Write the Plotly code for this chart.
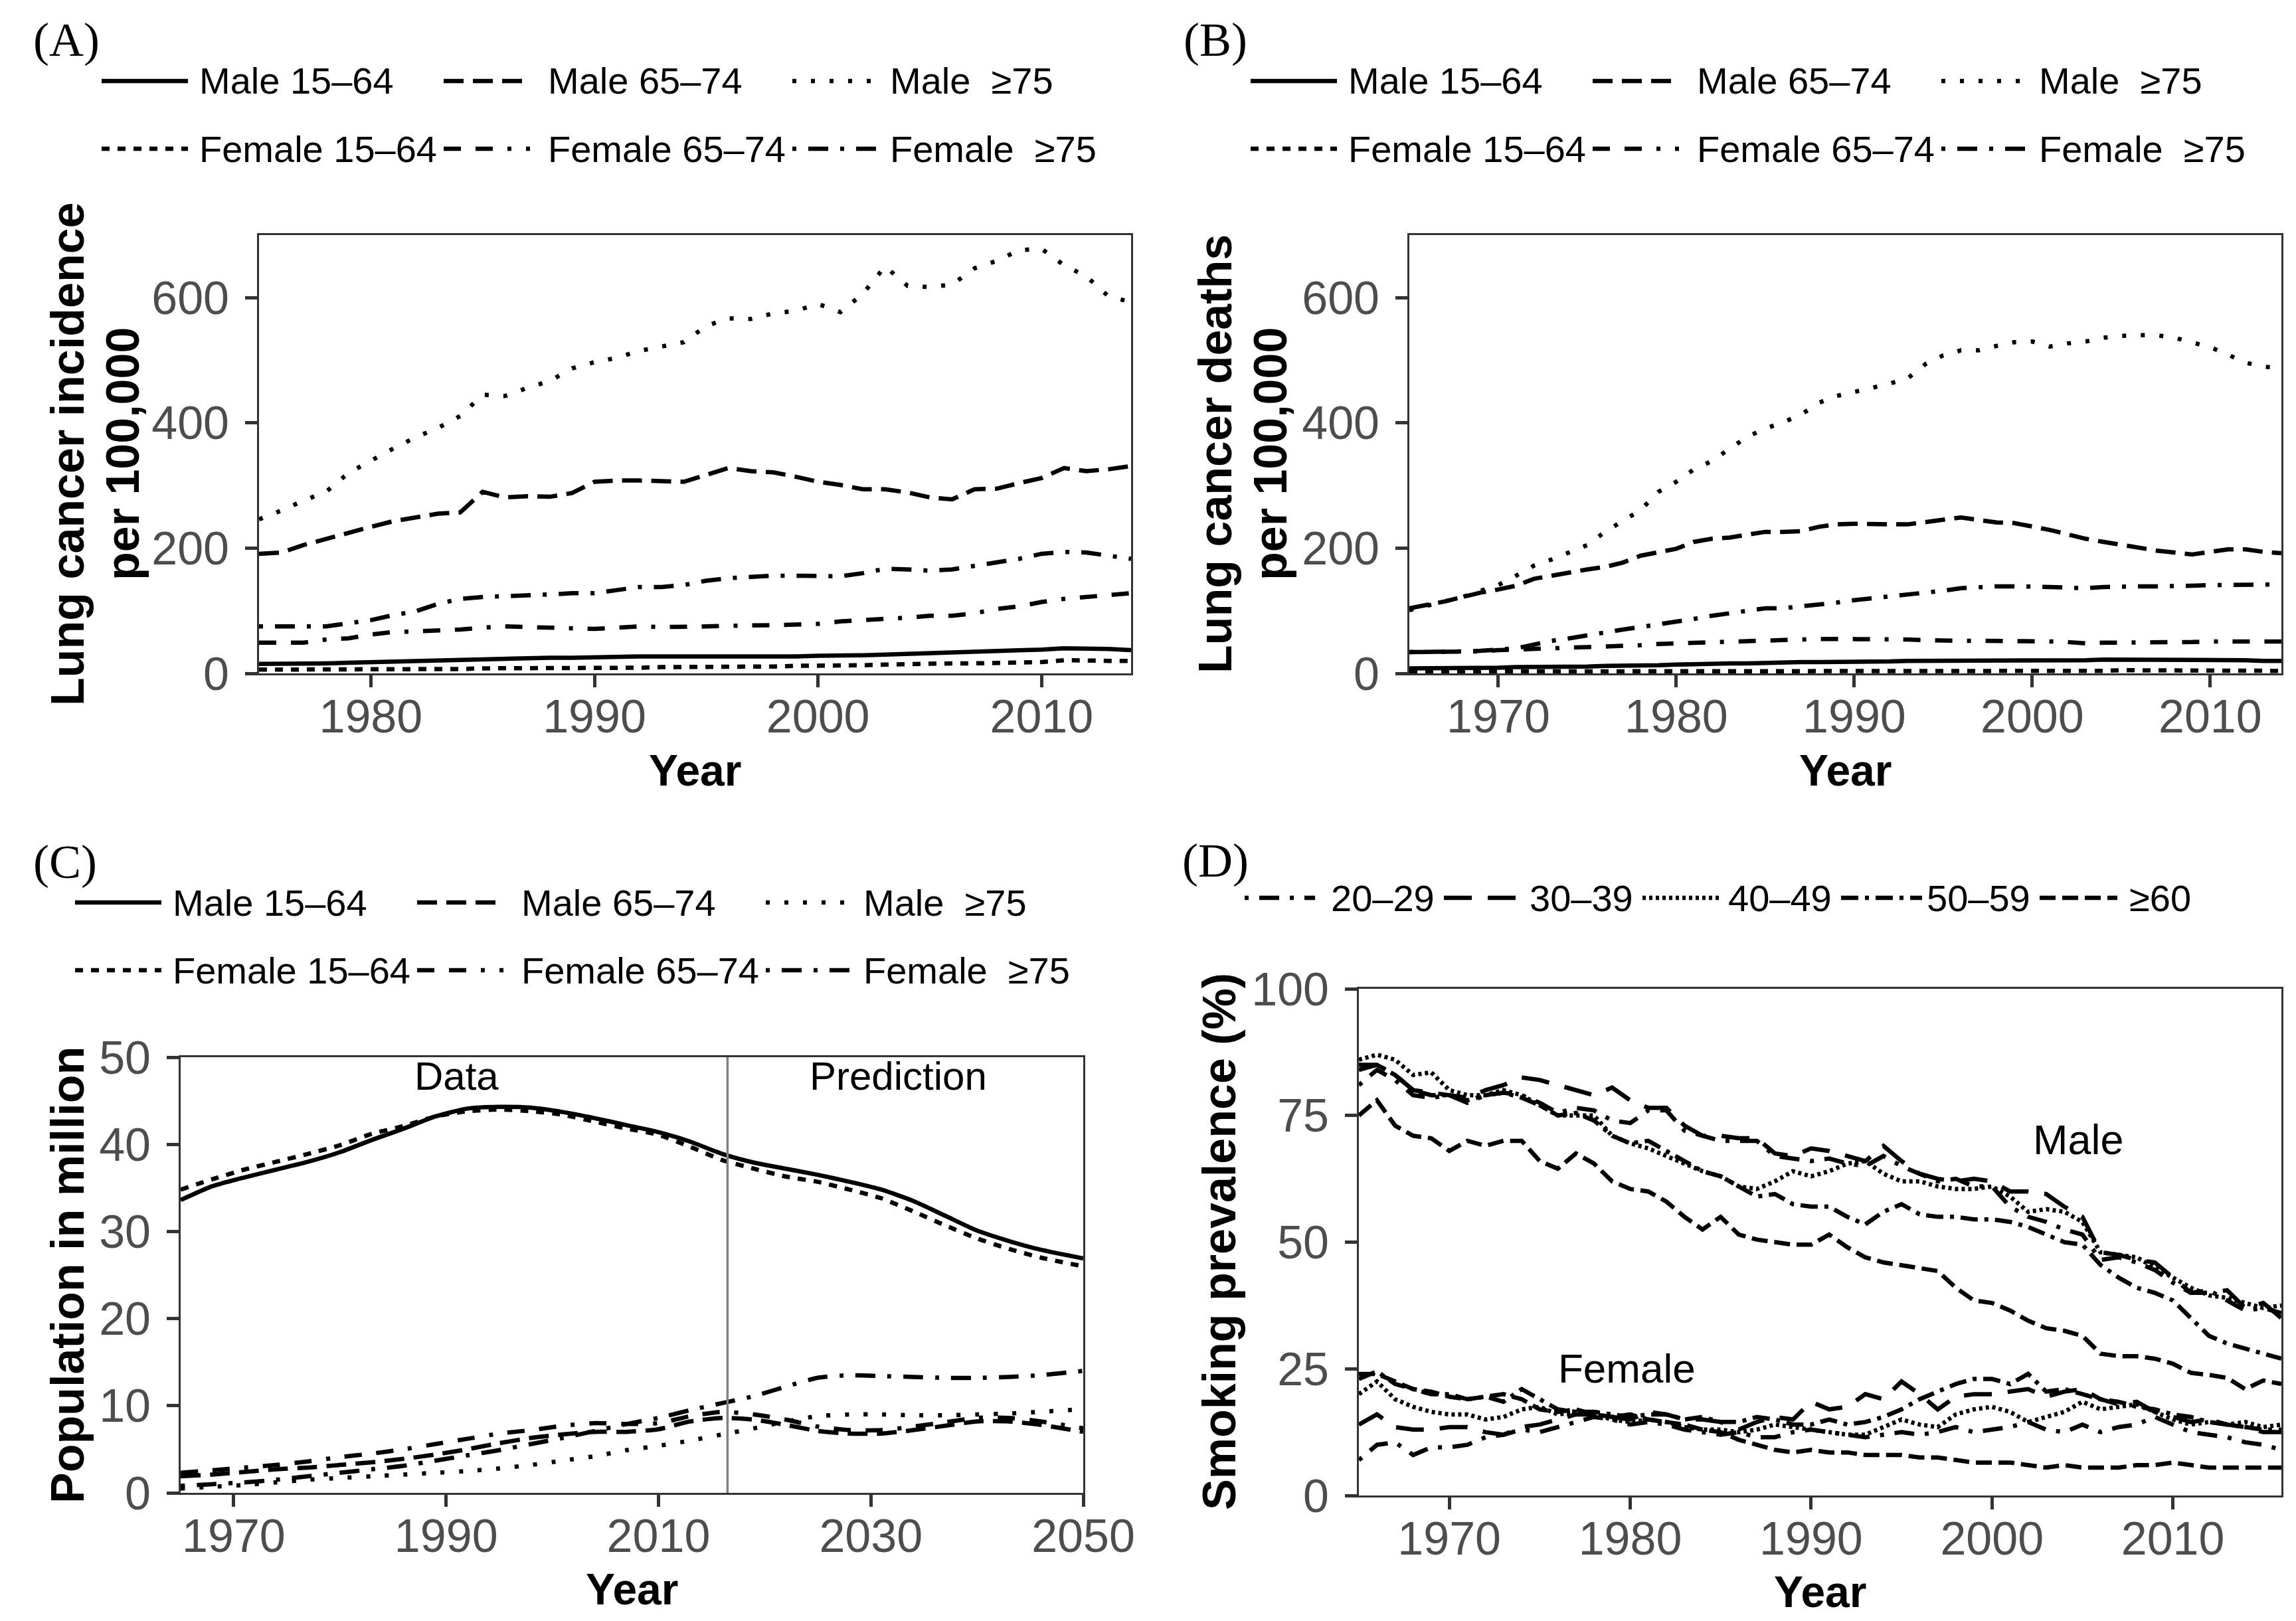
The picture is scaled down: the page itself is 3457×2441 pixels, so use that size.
# -*- coding: utf-8 -*-
"""
Lung cancer / population / smoking prevalence - 4 panel figure
"""

import plotly.graph_objects as go

# ==================== data ====================
# (A) lung cancer incidence per 100,000, 1975-2014
A_YEARS = list(range(1975, 2015))
A_MALE_15_64 = [15, 15, 16, 16, 17, 18, 19, 20, 21, 22,
                23, 24, 24, 25, 25, 26, 27, 27, 27, 27,
                26, 26, 26, 27, 27, 28, 28, 29, 30, 31,
                33, 34, 35, 36, 37, 38, 40, 40, 39, 37]
A_MALE_65_74 = [191, 193, 205, 215, 224, 234, 243, 249, 255, 257,
                290, 281, 283, 282, 288, 306, 308, 308, 307, 306,
                317, 328, 323, 321, 314, 306, 301, 294, 294, 289,
                281, 278, 294, 295, 304, 312, 328, 323, 326, 331]
A_MALE_75 = [246, 260, 276, 290, 320, 340, 359, 377, 392, 411,
             445, 443, 456, 467, 487, 497, 504, 515, 522, 529,
             555, 567, 566, 575, 579, 590, 577, 606, 650, 619,
             617, 621, 647, 659, 676, 678, 652, 634, 602, 593]
A_FEM_15_64 = [6, 6, 6, 6, 7, 7, 7, 7, 7, 7,
               8, 8, 8, 8, 9, 9, 9, 9, 10, 10,
               10, 10, 11, 11, 12, 12, 13, 13, 14, 15,
               15, 16, 16, 17, 17, 18, 21, 20, 20, 20]
A_FEM_65_74 = [49, 49, 49, 54, 56, 62, 66, 67, 68, 70,
               73, 75, 74, 73, 71, 71, 73, 75, 74, 74,
               75, 76, 76, 77, 78, 79, 83, 85, 86, 89,
               92, 92, 96, 103, 107, 114, 119, 122, 125, 128]
A_FEM_75 = [75, 75, 74, 75, 80, 85, 93, 99, 111, 119,
            122, 123, 124, 126, 128, 128, 133, 138, 138, 141,
            148, 152, 154, 156, 156, 156, 155, 160, 167, 166,
            164, 166, 172, 178, 183, 191, 194, 193, 188, 183]

# (B) lung cancer deaths per 100,000, 1965-2014
B_YEARS = list(range(1965, 2015))
B_MALE_15_64 = [8, 8, 8, 9, 9, 9, 10, 10, 10, 11,
                11, 12, 12, 13, 13, 14, 15, 15, 16, 16,
                17, 17, 18, 18, 18, 19, 19, 19, 20, 20,
                20, 20, 20, 20, 20, 20, 20, 21, 21, 22,
                22, 22, 22, 22, 21, 21, 21, 21, 20, 20]
B_MALE_65_74 = [104, 109, 115, 122, 129, 134, 140, 151, 156, 162,
                166, 170, 177, 188, 194, 199, 210, 215, 217, 222,
                226, 226, 227, 234, 238, 239, 238, 238, 238, 242,
                246, 249, 245, 241, 240, 235, 229, 222, 215, 210,
                205, 200, 196, 193, 190, 194, 198, 198, 194, 192]
B_MALE_75 = [101, 108, 115, 122, 132, 141, 156, 172, 182, 193,
             205, 226, 244, 261, 290, 306, 326, 339, 359, 378,
             391, 401, 413, 432, 443, 449, 456, 463, 471, 494,
             508, 516, 516, 523, 529, 530, 522, 527, 530, 536,
             539, 540, 540, 536, 529, 521, 509, 496, 490, 487]
B_FEM_15_64 = [3, 3, 3, 3, 3, 3, 3, 3, 3, 3,
               3, 3, 3, 3, 3, 3, 4, 4, 4, 4,
               4, 4, 4, 4, 4, 4, 4, 4, 4, 4,
               4, 4, 4, 4, 4, 4, 4, 4, 4, 4,
               5, 5, 5, 5, 5, 5, 5, 5, 4, 4]
B_FEM_65_74 = [34, 34, 34, 35, 35, 37, 38, 38, 39, 40,
               42, 43, 44, 45, 47, 48, 49, 50, 51, 52,
               53, 54, 54, 55, 55, 55, 54, 54, 54, 53,
               52, 52, 52, 52, 52, 52, 51, 50, 48, 49,
               49, 49, 49, 49, 50, 51, 51, 51, 51, 51]
B_FEM_75 = [34, 34, 34, 35, 36, 38, 40, 46, 52, 56,
            61, 66, 70, 74, 78, 82, 87, 92, 96, 101,
            104, 104, 107, 109, 113, 117, 120, 122, 125, 128,
            132, 136, 138, 139, 139, 139, 138, 137, 136, 138,
            139, 139, 139, 139, 140, 141, 141, 142, 142, 142]

# (C) population in million, data + prediction
C_YEARS = [1965, 1968, 1971, 1974, 1977, 1980, 1983, 1986, 1989, 1992,
           1995, 1998, 2001, 2004, 2007, 2010, 2013, 2016, 2019, 2022,
           2025, 2028, 2031, 2034, 2037, 2040, 2043, 2046, 2050]
C_MALE_15_64 = [33.6, 35.2, 36.2, 37.1, 38.0, 39.1, 40.5, 41.8, 43.2, 44.1,
                44.3, 44.2, 43.7, 43.0, 42.2, 41.4, 40.3, 38.9, 37.9, 37.2,
                36.5, 35.7, 34.8, 33.5, 31.8, 30.1, 28.9, 27.9, 26.9]
C_MALE_65_74 = [1.9, 2.1, 2.4, 2.7, 2.9, 3.2, 3.5, 3.9, 4.4, 5.0,
                5.7, 6.3, 6.7, 7.0, 7.0, 7.3, 8.2, 8.6, 8.4, 7.8,
                7.1, 6.8, 6.8, 7.2, 7.7, 8.2, 8.2, 7.8, 7.0]
C_MALE_75 = [0.5, 0.7, 0.9, 1.2, 1.5, 1.7, 1.9, 2.1, 2.3, 2.5,
             2.8, 3.2, 3.7, 4.2, 4.9, 5.4, 6.0, 6.7, 7.4, 8.2,
             8.8, 9.0, 9.0, 8.9, 8.9, 9.0, 9.1, 9.3, 9.6]
C_FEM_15_64 = [34.8, 36.0, 37.1, 38.0, 38.9, 39.9, 41.2, 42.1, 43.2, 43.8,
               44.0, 43.8, 43.4, 42.6, 41.8, 41.1, 39.7, 38.2, 37.2, 36.3,
               35.7, 34.8, 33.8, 32.3, 30.7, 29.2, 28.0, 27.0, 26.0]
C_FEM_65_74 = [2.3, 2.6, 2.9, 3.2, 3.6, 4.1, 4.5, 5.0, 5.6, 6.2,
               6.8, 7.2, 7.7, 8.0, 7.9, 8.0, 8.8, 9.3, 9.0, 8.4,
               7.6, 7.2, 7.2, 7.6, 8.1, 8.6, 8.6, 8.2, 7.4]
C_FEM_75 = [0.8, 1.0, 1.2, 1.5, 1.9, 2.3, 2.7, 3.1, 3.7, 4.3,
            4.9, 5.6, 6.3, 7.1, 7.9, 8.6, 9.5, 10.3, 11.1, 12.2,
            13.2, 13.5, 13.4, 13.3, 13.2, 13.2, 13.3, 13.5, 14.0]
C_SPLIT_YEAR = 2016.5

# (D) smoking prevalence (%), 1965-2016
D_YEARS = list(range(1965, 2017))
D_MALE = {
    '20-29': [81, 84, 82, 79, 78.5, 79, 77.5, 79, 79.5, 79,
              77.5, 75.5, 76.5, 76, 74, 73.5, 76, 76, 72, 71,
              70, 70, 70, 67, 66.5, 66, 66.5, 65.5, 65, 67,
              65, 63.5, 62, 62.5, 61, 61, 57, 55, 54, 52.5,
              51.5, 46.5, 47, 46, 44.5, 42, 40, 40.5, 38.5, 36.5,
              37, 36],
    '30-39': [85, 85, 83, 80, 79.5, 79, 78.5, 80, 81, 82.5,
              82, 81, 80, 79, 80.5, 78, 76.5, 76.5, 73, 71,
              71, 70.5, 70.5, 67.5, 67, 68.5, 68, 67, 66, 69,
              66, 63.5, 62.5, 62, 62.5, 62, 60, 60, 59.5, 57,
              55, 48, 47.5, 46.5, 46, 43, 40, 40, 40.5, 37,
              38, 35],
    '40-49': [86, 87, 86, 83, 83.5, 80, 79, 79, 80, 79,
              77, 75, 75, 75, 71, 69.5, 68.5, 67, 65.5, 64,
              63, 61, 60.5, 62, 64, 63, 64, 65.5, 66, 63.5,
              62, 62, 61, 60.5, 60.5, 61, 59, 56, 56.5, 56,
              54, 48, 47.5, 47, 45, 43, 41, 39.5, 39, 38,
              37, 37.5],
    '50-59': [84, 85, 83, 80, 79, 79, 78, 79, 79.5, 78.5,
              77, 75, 75.5, 74, 71, 69.5, 70, 68, 66, 64,
              63, 61, 59, 59.5, 57.5, 57, 57, 55, 53.5, 56,
              57.5, 55.5, 55, 55, 54.5, 54.5, 54, 53, 51.5, 50,
              49.5, 45.5, 43, 41, 40, 38.5, 35, 31.5, 30, 29,
              28, 27],
    '60+': [75, 78, 73, 71, 70.5, 68, 70, 69, 70, 70,
            66, 64.5, 67.5, 65.5, 62, 60.5, 60, 58, 55, 52.5,
            55, 51.5, 50.5, 50, 49.5, 49.5, 51.5, 49, 47, 46,
            45.5, 45, 44.3, 41, 38.5, 38, 36.5, 34.5, 33, 32.5,
            31.5, 28, 27.5, 27.5, 27, 26, 24.2, 23.8, 23.2, 21,
            22.7, 22],
}
D_FEMALE = {
    '20-29': [7, 10, 10.5, 8, 9.5, 9.5, 10, 11.5, 12, 13,
              12.5, 13.5, 14.5, 15.5, 15, 14, 14.5, 14, 13, 12.5,
              12, 12.5, 11.5, 11.5, 12.5, 13, 12.5, 12, 11.5, 12,
              12.5, 12, 12.5, 13.5, 12.5, 13, 13.5, 14.5, 13, 12.5,
              14, 12.5, 13.5, 14, 15.5, 14, 12.5, 12, 11.5, 10.5,
              10, 9],
    '30-39': [14, 16, 13.5, 13, 13, 13.5, 13.5, 12.5, 12, 13.5,
              14, 15, 16, 16, 15.5, 15, 16.5, 16, 15, 15,
              14.5, 13, 14.5, 15.5, 15, 18.5, 17, 17.5, 20, 19,
              22.5, 20, 17, 19.5, 20, 20, 20.5, 21, 19.5, 20.5,
              21, 19, 18, 18.5, 16.5, 15.5, 14.5, 15, 14, 13.5,
              12.5, 12.5],
    '40-49': [20, 22.5, 19, 17.5, 16.5, 16, 16, 15, 15.5, 17,
              17.5, 16, 16.5, 16, 15, 14.5, 15, 14.5, 13.5, 13,
              13, 12.5, 13, 14, 13.5, 13, 12.5, 12, 12, 13.5,
              15, 14, 13.5, 16, 17, 17.5, 16.5, 14.5, 15.5, 16.5,
              18.5, 17, 17.5, 18, 16.5, 15, 14, 14.5, 14, 14.5,
              13.5, 14],
    '50-59': [23, 24.5, 22, 21, 20, 20, 19, 19.5, 18.5, 21,
              19, 17, 16.5, 16.5, 16, 15.5, 16, 16, 15, 15.5,
              14.5, 14.5, 15.5, 15, 14, 14, 15, 14, 14.5, 15.5,
              17, 19, 20.5, 22, 23, 23, 22, 24, 20.5, 21,
              20, 19, 18.5, 17.5, 17, 16, 15.5, 14.5, 14, 13.5,
              13, 13],
    '60+': [24, 24, 22.5, 21, 20.5, 19.5, 19, 19.5, 20, 19,
            17, 16.5, 17, 16, 15.5, 16, 15, 14.5, 14, 13,
            12.5, 11, 10, 9, 8.5, 9, 8.5, 8.5, 8, 8,
            8, 7.5, 7.5, 7, 6.5, 6.5, 6.5, 6, 5.5, 6,
            5.5, 5.5, 5.5, 6, 6, 6.5, 6, 5.5, 5.5, 5.5,
            5.5, 5.5],
}

# ==================== style ====================
W, H = 3457, 2441
SANS = 'Liberation Sans, Arial, Helvetica, sans-serif'
SERIF = 'Liberation Serif, DejaVu Serif, Times New Roman, serif'
LW = 6.5
FRAME = '#333333'
TICKTXT = '#4D4D4D'

# dash patterns (A/B/C panels)
SEX_AGE = [
    ('Male 15\u201364', 'solid'),
    ('Male 65\u201374', '30px,14px'),
    ('Male  \u226575', '6px,22px'),
    ('Female 15\u201364', '12px,12px'),
    ('Female 65\u201374', '26px,22px,26px,22px,6px,22px'),
    ('Female  \u226575', '6px,18px,30px,18px'),
]
# dash patterns (D)
AGE_D = [
    ('20-29', '20\u201329', '6px,16px,30px,16px'),
    ('30-39', '30\u201339', '42px,24px'),
    ('40-49', '40\u201349', '5px,5px'),
    ('50-59', '50\u201359', '26px,10px,6px,10px'),
    ('60+', '\u226560', '24px,10px'),
]

# plot areas in pixels (left, right), (top, bottom)
PANELS = {
    'A': ((382, 1695), (346, 1006)),
    'B': ((2114, 3427), (346, 1006)),
    'C': ((264, 1623), (1584, 2240)),
    'D': ((2038, 3427), (1481, 2244)),
}


def px(x):
    return x / W


def py(y):
    return 1 - y / H


def axis_pair(key, n, xrange_, xticks, yrange_, yticks):
    """Axis dicts for one panel"""
    (l, r), (t, b) = PANELS[key]
    common = dict(
        showline=True, mirror=True, linecolor=FRAME, linewidth=3,
        ticks='outside', ticklen=18, tickwidth=4.5, tickcolor=FRAME,
        showgrid=False, zeroline=False, automargin=False,
        tickfont=dict(family=SANS, size=70, color=TICKTXT),
    )
    sfx = '' if n == 1 else str(n)
    xa = dict(common, domain=[px(l), px(r)], range=xrange_, tickvals=xticks,
              anchor='y' + sfx, ticklabelstandoff=-16)
    ya = dict(common, domain=[py(b), py(t)], range=yrange_, tickvals=yticks,
              anchor='x' + sfx, ticklabelstandoff=10)
    return 'xaxis' + sfx, xa, 'yaxis' + sfx, ya


def add_line(fig, n, x, y, dash, shape='linear'):
    sfx = '' if n == 1 else str(n)
    fig.add_trace(go.Scatter(
        x=x, y=y, mode='lines', showlegend=False,
        line=dict(color='black', width=LW, dash=dash, shape=shape, smoothing=0.6),
        xaxis='x' + sfx, yaxis='y' + sfx, hoverinfo='skip'))


def text(fig, x, y, s, size, bold=False, angle=0, family=SANS, xanchor='center'):
    fig.add_annotation(
        x=px(x), y=py(y), xref='paper', yref='paper', text=s, showarrow=False,
        textangle=angle, xanchor=xanchor, yanchor='middle',
        font=dict(family=family, size=size, color='black',
                  weight='bold' if bold else 'normal'))


def legend_item(fig, x0, x1, y, dash, label, tx):
    fig.add_shape(type='line', xref='paper', yref='paper',
                  x0=px(x0), x1=px(x1), y0=py(y), y1=py(y),
                  line=dict(color='black', width=LW, dash=dash))
    text(fig, tx, y, label, 56, xanchor='left')


fig = go.Figure()

# ==================== panel A ====================
for (label, dash), vals in zip(SEX_AGE, [A_MALE_15_64, A_MALE_65_74, A_MALE_75,
                                         A_FEM_15_64, A_FEM_65_74, A_FEM_75]):
    add_line(fig, 1, A_YEARS, vals, dash)

# ==================== panel B ====================
for (label, dash), vals in zip(SEX_AGE, [B_MALE_15_64, B_MALE_65_74, B_MALE_75,
                                         B_FEM_15_64, B_FEM_65_74, B_FEM_75]):
    add_line(fig, 2, B_YEARS, vals, dash)

# ==================== panel C ====================
for (label, dash), vals in zip(SEX_AGE, [C_MALE_15_64, C_MALE_65_74, C_MALE_75,
                                         C_FEM_15_64, C_FEM_65_74, C_FEM_75]):
    add_line(fig, 3, C_YEARS, vals, dash, shape='spline')

fig.add_shape(type='line', xref='x3', yref='y3 domain', x0=C_SPLIT_YEAR, x1=C_SPLIT_YEAR,
              y0=0, y1=1, line=dict(color='#808080', width=3.5))
fig.add_annotation(x=1991, y=47.8, xref='x3', yref='y3', text='Data', showarrow=False,
                   font=dict(family=SANS, size=60, color='black'))
fig.add_annotation(x=2032.6, y=47.8, xref='x3', yref='y3', text='Prediction', showarrow=False,
                   font=dict(family=SANS, size=60, color='black'))

# ==================== panel D ====================
for key, label, dash in AGE_D:
    add_line(fig, 4, D_YEARS, D_MALE[key], dash)
    add_line(fig, 4, D_YEARS, D_FEMALE[key], dash)

fig.add_annotation(x=2004.8, y=70.3, xref='x4', yref='y4', text='Male', showarrow=False,
                   font=dict(family=SANS, size=63, color='black'))
fig.add_annotation(x=1979.8, y=25.1, xref='x4', yref='y4', text='Female', showarrow=False,
                   font=dict(family=SANS, size=62, color='black'))

# ==================== axes ====================
axes = [
    axis_pair('A', 1, [1975, 2014], [1980, 1990, 2000, 2010], [0, 700], [0, 200, 400, 600]),
    axis_pair('B', 2, [1965, 2014], [1970, 1980, 1990, 2000, 2010], [0, 700], [0, 200, 400, 600]),
    axis_pair('C', 3, [1965, 2050], [1970, 1990, 2010, 2030, 2050], [0, 50], [0, 10, 20, 30, 40, 50]),
    axis_pair('D', 4, [1965, 2016], [1970, 1980, 1990, 2000, 2010], [0, 100], [0, 25, 50, 75, 100]),
]
lay = {}
for xk, xa, yk, ya in axes:
    lay[xk] = xa
    lay[yk] = ya

# ==================== titles / labels ====================
for k, (lx, ly) in {'A': (92, 52), 'B': (1822, 52), 'C': (90, 1290), 'D': (1822, 1288)}.items():
    text(fig, lx, ly, '(%s)' % k, 72, family=SERIF)

text(fig, 94, 676, 'Lung cancer incidence', 70, bold=True, angle=-90)
text(fig, 177, 676, 'per 100,000', 70, bold=True, angle=-90)
text(fig, 1822, 676, 'Lung cancer deaths', 70, bold=True, angle=-90)
text(fig, 1905, 676, 'per 100,000', 70, bold=True, angle=-90)
text(fig, 94, 1912, 'Population in million', 70, bold=True, angle=-90)
text(fig, 1828, 1862, 'Smoking prevalence (%)', 70, bold=True, angle=-90)

for k, ty in [('A', 1152), ('B', 1152), ('C', 2385), ('D', 2389)]:
    (l, r), _ = PANELS[k]
    text(fig, (l + r) / 2, ty, 'Year', 66, bold=True)

# ==================== legends ====================
def sex_age_legend(dx, rows):
    keys = [(145, 275, 290), (660, 790, 815), (1185, 1315, 1330)]
    for i, (label, dash) in enumerate(SEX_AGE):
        k0, k1, tx = keys[i % 3]
        legend_item(fig, k0 + dx, k1 + dx, rows[i // 3], dash, label, tx + dx)


sex_age_legend(0, (114, 216))
sex_age_legend(1730, (114, 216))
sex_age_legend(-40, (1351, 1453))

d_keys = [(1866, 1972, 1994), (2166, 2282, 2293), (2465, 2581, 2592),
          (2764, 2886, 2891), (3063, 3180, 3196)]
for (key, label, dash), (k0, k1, tx) in zip(AGE_D, d_keys):
    legend_item(fig, k0, k1, 1344, dash, label, tx)

fig.update_layout(
    width=W, height=H,
    margin=dict(l=0, r=0, t=0, b=0, autoexpand=False),
    paper_bgcolor='white', plot_bgcolor='white',
    showlegend=False,
    **lay
)

fig.write_html("out.html")
